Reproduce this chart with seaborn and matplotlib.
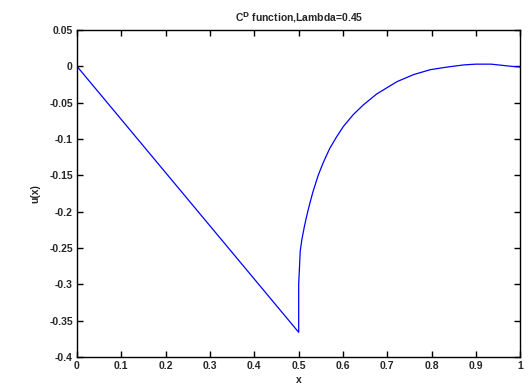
import matplotlib
matplotlib.use("Agg")
import matplotlib.pyplot as plt
import seaborn as sns
import pandas as pd

x_vals = [0, 0.5, 0.5, 0.5035, 0.507, 0.512, 0.516, 0.52, 0.525, 0.532, 0.544,
          0.555, 0.57, 0.5855, 0.6005, 0.623, 0.646, 0.676, 0.722, 0.759, 0.797,
          0.835, 0.873, 0.9, 0.934, 0.98, 1.0]
u_vals = [0, -0.366, -0.300, -0.254, -0.239, -0.223, -0.2115, -0.201, -0.189, -0.173,
          -0.150, -0.133, -0.113, -0.097, -0.083, -0.0665, -0.053, -0.038, -0.021,
          -0.0114, -0.0046, -0.001, 0.002, 0.003, 0.003, 0.0, -0.001]

x_ticks = [0, 0.1, 0.2, 0.3, 0.4, 0.5, 0.6, 0.7, 0.8, 0.9, 1]
x_tick_labels = ["0", "0.1", "0.2", "0.3", "0.4", "0.5", "0.6", "0.7", "0.8", "0.9", "1"]
y_ticks = [0.05, 0, -0.05, -0.1, -0.15, -0.2, -0.25, -0.3, -0.35, -0.4]
y_tick_labels = ["0.05", "0", "-0.05", "-0.1", "-0.15", "-0.2", "-0.25", "-0.3", "-0.35", "-0.4"]

sns.set_theme(style="white")
plt.rcParams['font.family'] = ['Liberation Sans', 'DejaVu Sans']

df = pd.DataFrame({"x": x_vals, "u": u_vals})

fig = plt.figure(figsize=(5.31, 3.87), dpi=100)
ax = fig.add_axes([0.145, 0.0775, 0.835, 0.845])
sns.lineplot(data=df, x="x", y="u", sort=False, estimator=None, color="#0000ff",
             linewidth=0.9, ax=ax)

ax.set_xlim(0, 1)
ax.set_ylim(-0.4, 0.05)
ax.set_xticks(x_ticks)
ax.set_xticklabels(x_tick_labels)
ax.set_yticks(y_ticks)
ax.set_yticklabels(y_tick_labels)
ax.tick_params(axis="both", direction="in", length=4, width=1, color="black",
               labelsize=7.5, pad=3, top=True, right=True, bottom=True, left=True)
for lab in ax.get_xticklabels() + ax.get_yticklabels():
    lab.set_fontweight("bold")
for s in ax.spines.values():
    s.set_color("black")
    s.set_linewidth(1.0)
    s.set_visible(True)

ax.set_xlabel("x", fontsize=7.5, fontweight="bold", labelpad=3)
ax.set_ylabel("u(x)", fontsize=7.5, fontweight="bold", labelpad=6)
ax.set_title(r"C$^{\mathbf{D}}$ function,Lambda=0.45", fontsize=7.5, fontweight="bold", pad=6)

fig.savefig("out.png", dpi=100)
